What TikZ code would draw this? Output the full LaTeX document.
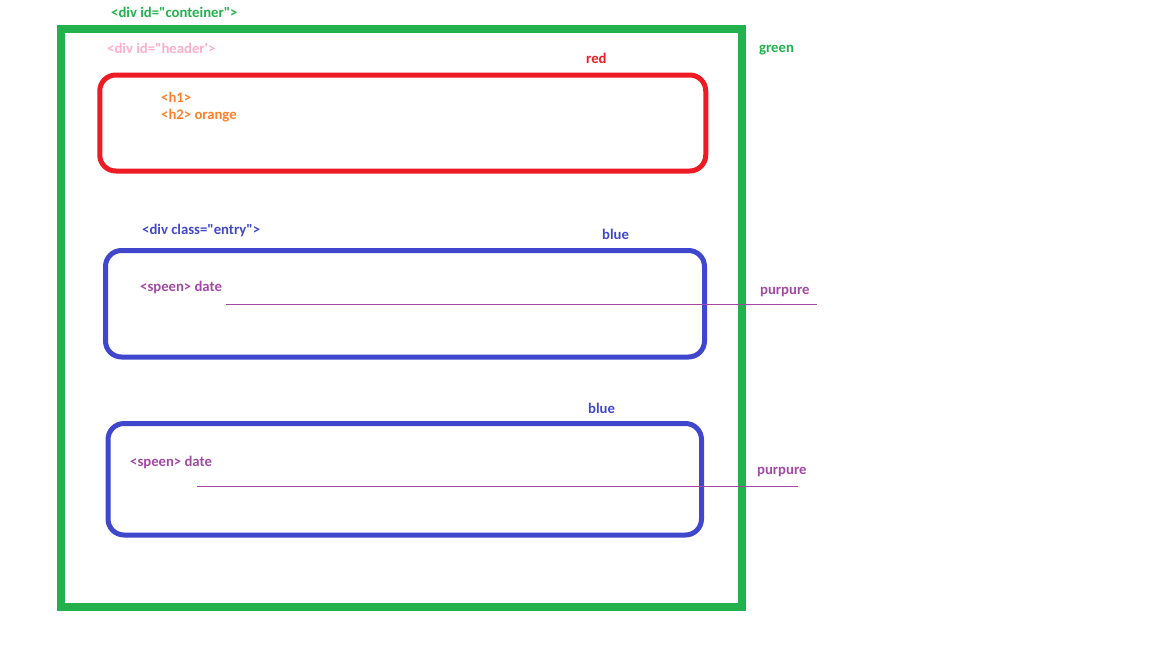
\documentclass[tikz,border=0pt]{standalone}
\usepackage{fontspec}
\setmainfont{Carlito}[Ligatures=TeXOff]
\usepackage{tikz}
\usetikzlibrary{positioning}
\definecolor{paintGreen}{RGB}{34,177,76}
\definecolor{paintRed}{RGB}{237,28,36}
\definecolor{paintBlue}{RGB}{63,72,204}
\definecolor{paintOrange}{RGB}{255,127,39}
\definecolor{paintPink}{RGB}{255,174,201}
\definecolor{paintPurple}{RGB}{163,73,164}

\begin{document}
\begin{tikzpicture}[
    x=1pt, y=-1pt,
    every node/.style={font=\fontsize{14.7}{17}\selectfont\bfseries, inner sep=0pt},
    boxGreen/.style={rectangle, draw=paintGreen, line width=8pt, minimum width=681pt, minimum height=578pt},
    boxRed/.style={rectangle, rounded corners=16pt, draw=paintRed, line width=5pt, minimum width=606pt, minimum height=96pt},
    boxBlue/.style={rectangle, rounded corners=16pt, draw=paintBlue, line width=5pt},
    lbl/.style={anchor=west},
    spanLine/.style={draw=paintPurple, line width=1pt}
]
\useasboundingbox (0,0) rectangle (1152,648);

% ============== CONTENEDOR ==============
\node[boxGreen] (cont) at (401.5,318) {};
\node[lbl, text=paintGreen] (contLbl) at (111,12) {<div id="conteiner">};
\node[lbl, text=paintGreen] (greenLbl) at (759,50) {green};

% ============== HEADER ==============
\node[lbl, text=paintPink] (headLbl) at (107,48) {<div id="header'>};
\node[boxRed] (head) at (402.75,123) {};
\node[lbl, text=paintRed] (redLbl) at (586,58) {red};
\node[lbl, text=paintOrange] (hOne) at (161,97) {<h1>};
\node[lbl, text=paintOrange] (hTwo) at (161,116) {<h2> orange};

% ============== ENTRY 1 ==============
\node[lbl, text=paintBlue] (entryLbl) at (142,230) {<div class="entry">};
\node[boxBlue, minimum width=599pt, minimum height=106.5pt] (entryA) at (405,303.75) {};
\node[lbl, text=paintBlue] (blueA) at (602,234) {blue};
\node[lbl, text=paintPurple] (spanA) at (140,287) {<speen> date};
\node[lbl, text=paintPurple] (purA) at (760,292) {purpure};
\coordinate (lineAs) at (226,304);
\coordinate (lineAe) at (817,304);
\draw[spanLine] (lineAs) -- (lineAe);

% ============== ENTRY 2 ==============
\node[boxBlue, minimum width=593.5pt, minimum height=111.5pt] (entryB) at (404.75,479.25) {};
\node[lbl, text=paintBlue] (blueB) at (588,408) {blue};
\node[lbl, text=paintPurple] (spanB) at (130,462) {<speen> date};
\node[lbl, text=paintPurple] (purB) at (757,472) {purpure};
\coordinate (lineBs) at (197,486);
\coordinate (lineBe) at (798,486);
\draw[spanLine] (lineBs) -- (lineBe);
\end{tikzpicture}
\end{document}
